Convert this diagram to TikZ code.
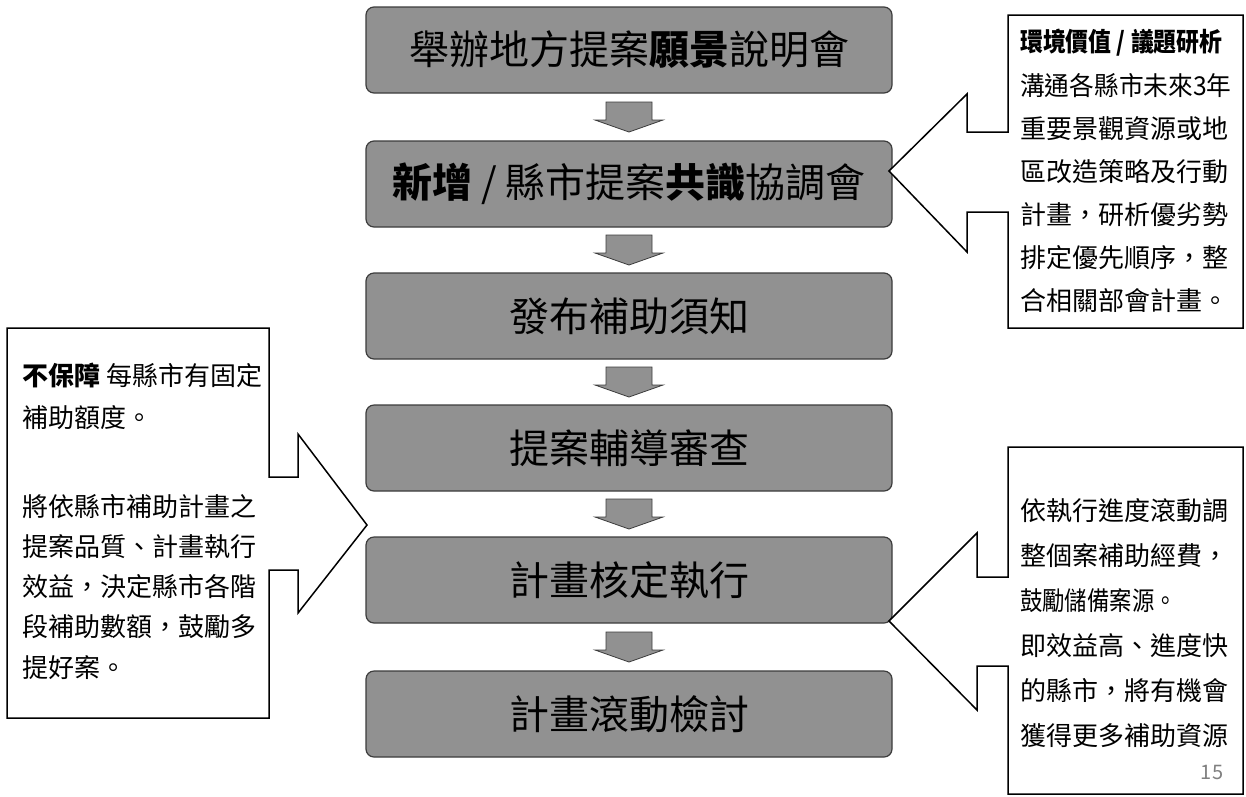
\documentclass[tikz,border=0pt]{standalone}
\usepackage{graphicx}
\usepackage{fontspec}
\setmainfont{Noto Sans CJK TC}
\usetikzlibrary{calc}
\definecolor{boxgray}{RGB}{145,145,145}
\definecolor{edgegray}{RGB}{60,60,60}
\begin{document}
\begin{tikzpicture}[x=1pt,y=-1pt,
  mainbox/.style={draw=edgegray, line width=1.2pt, fill=boxgray, rounded corners=8pt,
    minimum width=526pt, minimum height=86pt, inner sep=0pt, font=\fontsize{40}{44}\selectfont},
  blockarrow/.style={fill=boxgray, draw=edgegray, line width=0.8pt},
  callout/.style={draw=black, line width=1.5pt, fill=white, line join=miter},
  sidetext/.style={anchor=west, inner sep=0pt, font=\fontsize{26}{30}\selectfont},
]
\fill[white] (0,0) rectangle (1246,796);
\useasboundingbox (0,0) rectangle (1246,796);

% main flow boxes
\node[mainbox] (b1) at (629,50)  {舉辦地方提案{\bfseries 願景}說明會};
\node[mainbox] (b2) at (629,184) {{\bfseries 新增} / 縣市提案{\bfseries 共識}協調會};
\node[mainbox] (b3) at (629,316) {發布補助須知};
\node[mainbox] (b4) at (629,448) {提案輔導審查};
\node[mainbox] (b5) at (629,580) {計畫核定執行};
\node[mainbox] (b6) at (629,714) {計畫滾動檢討};

% block arrows between boxes
\foreach \a/\b [count=\i] in {b1/b2,b2/b3,b3/b4,b4/b5,b5/b6}{
  \path (\a.south) -- (\b.north) coordinate[midway] (m\i);
  \draw[blockarrow] ([shift={(-23,-15)}]m\i) -- ++(46,0) -- ++(0,18) -- ++(11,0)
     -- ++(-34,12) -- ++(-34,-12) -- ++(11,0) -- cycle;
}

% right callout 1
\draw[callout] (1008,15) -- (1243,15) -- (1243,328) -- (1008,328) -- (1008,212)
  -- (967,212) -- (967,252) -- (889,171) -- (967,94) -- (967,132) -- (1008,132) -- cycle;
\foreach \t [count=\i] in {{\scalebox{0.88}[1]{\bfseries 環境價值 / 議題研析}},
  {\scalebox{0.95}[1]{溝通各縣市未來3年}}, 重要景觀資源或地, 區改造策略及行動, 計畫，研析優劣勢,
  排定優先順序，整, 合相關部會計畫。}
  \node[sidetext, name=ra\i] at (1020,{43*\i}) {\t};

% left callout
\draw[callout] (7,328) -- (269,328) -- (269,477) -- (298,477) -- (298,434) -- (367,525)
  -- (298,613) -- (298,570) -- (269,570) -- (269,718) -- (7,718) -- cycle;
\foreach \t/\y [count=\i] in {{{\bfseries 不保障}\ 每縣市有固定}/375, 補助額度。/418,
  將依縣市補助計畫之/507, 提案品質、計畫執行/547, 效益，決定縣市各階/587,
  段補助數額，鼓勵多/627, 提好案。/668}
  \node[sidetext, name=la\i] at (22,\y) {\t};

% right callout 2
\draw[callout] (1008,447) -- (1243,447) -- (1243,794) -- (1008,794) -- (1008,666)
  -- (977,666) -- (977,710) -- (889,621) -- (977,533) -- (977,577) -- (1008,577) -- cycle;
\foreach \t [count=\i] in {依執行進度滾動調, 整個案補助經費，,
  {\scalebox{0.86}[1]{鼓勵儲備案源。}}, 即效益高、進度快,
  的縣市，將有機會, 獲得更多補助資源}
  \node[sidetext, name=rb\i] at (1020,{466+45*\i}) {\t};

\node[name=pg, inner sep=0pt, text=gray, font=\fontsize{20}{20}\selectfont] at (1212,772) {15};
\end{tikzpicture}
\end{document}
